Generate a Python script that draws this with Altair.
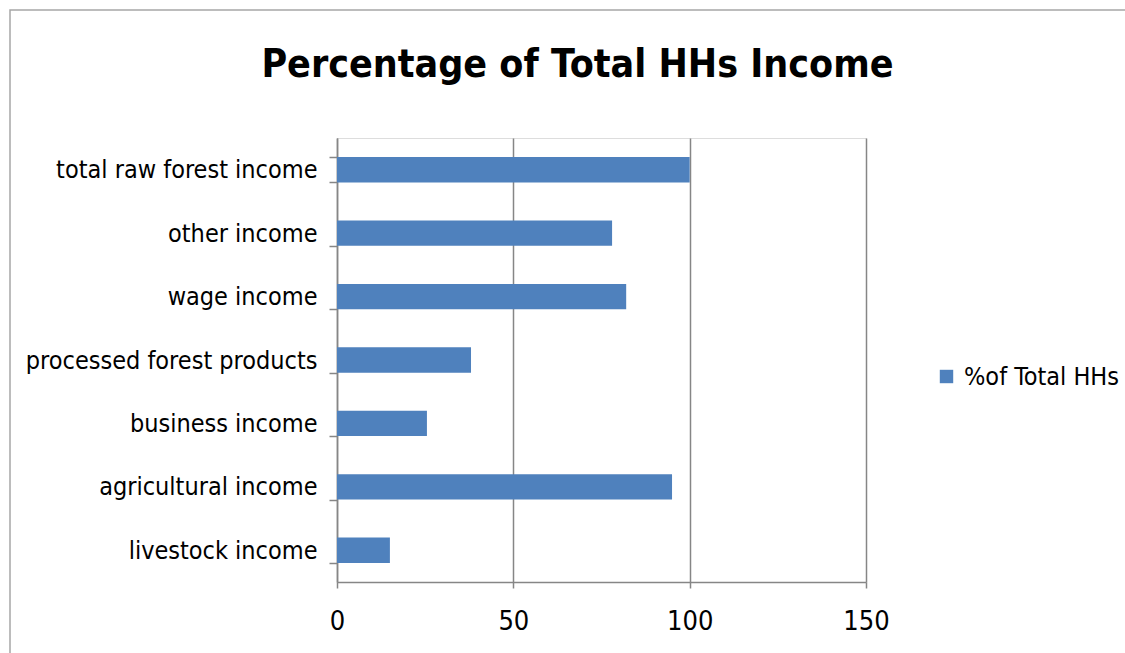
import altair as alt
import pandas as pd

categories = [
    "total raw forest income",
    "other income",
    "wage income",
    "processed forest products",
    "business income",
    "agricultural income",
    "livestock income",
]
values = [100, 78, 82, 38, 25.5, 95, 15]
series_name = "%of Total HHs"
x_ticks = [0, 50, 100, 150]

df = pd.DataFrame({"category": categories, "value": values, "series": series_name})

GRID = "#868686"
BAR = "#4F81BD"
FONT = "DejaVu Sans Condensed"

W, H = 529, 444
LEFT, TOP = 337, 138

bars = alt.Chart(df).mark_bar(color=BAR).encode(
    y=alt.Y(
        "category:N",
        sort=categories,
        title=None,
        scale=alt.Scale(paddingInner=0.6, paddingOuter=0.3),
        axis=alt.Axis(
            tickBand="extent",
            tickSize=8,
            tickColor=GRID,
            tickWidth=1.5,
            domainColor=GRID,
            domainWidth=1.5,
            labelFont=FONT,
            labelFontSize=25,
            labelColor="#000000",
            labelPadding=12,
            labelLimit=0,
            grid=False,
        ),
    ),
    x=alt.X(
        "value:Q",
        title=None,
        scale=alt.Scale(domain=[0, 150], nice=False),
        axis=alt.Axis(
            values=x_ticks,
            tickSize=6,
            tickColor=GRID,
            tickWidth=1.5,
            domainColor=GRID,
            domainWidth=1.5,
            grid=True,
            gridColor=GRID,
            gridWidth=1.5,
            labelFont=FONT,
            labelFontSize=27,
            labelColor="#000000",
            labelPadding=20,
            labelFlush=False,
        ),
    ),
    color=alt.Color(
        "series:N",
        scale=alt.Scale(range=[BAR]),
        legend=alt.Legend(
            title=None,
            orient="none",
            legendX=597,
            legendY=226,
            symbolType="square",
            symbolSize=180,
            symbolStrokeWidth=0,
            labelFont=FONT,
            labelFontSize=25,
            labelColor="#000000",
            labelOffset=5,
            labelLimit=0,
        ),
    ),
)

border = alt.Chart(pd.DataFrame({"b": [0]})).mark_rect(
    fillOpacity=0, stroke="#A6A6A6", strokeWidth=1.5
).encode(
    x=alt.value(10 - LEFT),
    y=alt.value(10 - TOP),
    x2=alt.value(1125 - LEFT + 10),
    y2=alt.value(653 - TOP + 10),
)

chart = alt.layer(border, bars).properties(
    width=W,
    height=H,
    autosize=alt.AutoSizeParams(type="none"),
    padding={"left": LEFT, "top": TOP, "right": 1125 - LEFT - W, "bottom": 653 - TOP - H},
    title=alt.TitleParams(
        "Percentage of Total HHs Income",
        font=FONT,
        fontSize=39,
        fontWeight="bold",
        color="#000000",
        anchor="middle",
        frame="group",
        offset=-76,
        dx=-24,
    ),
).configure_view(stroke="transparent", strokeWidth=0).configure(background="white")

chart.save("out.html", embed_options={"renderer": "svg", "actions": False})
